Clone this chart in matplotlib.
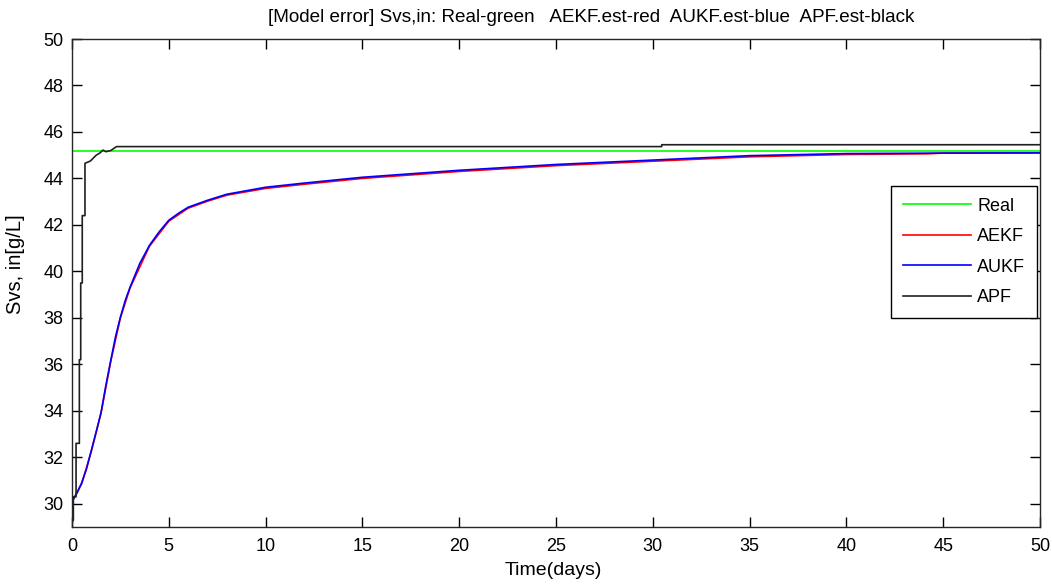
import numpy as np
import matplotlib.pyplot as plt

plt.rcParams['font.family'] = ['Liberation Sans', 'DejaVu Sans']

# time (days) / Svs,in [g/L]
real_t = [0, 50]
real_v = [45.18, 45.18]

aukf_t = [0, 0.25, 0.5, 0.75, 1, 1.25, 1.5, 1.75, 2, 2.25, 2.5, 2.75, 3, 3.5, 4, 4.5,
          5, 5.5, 6, 7, 8, 9, 10, 12, 15, 20, 25, 30, 35, 40, 45, 50]
aukf_v = [30.1, 30.45, 30.9, 31.5, 32.3, 33.1, 33.93, 35.1, 36.16, 37.2, 38.03, 38.75,
          39.32, 40.34, 41.12, 41.7, 42.2, 42.5, 42.76, 43.06, 43.32, 43.47, 43.62, 43.8,
          44.05, 44.35, 44.6, 44.79, 44.98, 45.07, 45.09, 45.1]

aekf_t = [0, 0.5, 1, 1.5, 2, 2.5, 3, 4, 5, 6, 7, 8, 10, 12, 15, 20, 25, 30, 35, 40, 44.2, 45, 50]
aekf_v = [30.08, 30.86, 32.26, 33.9, 36.12, 38.0, 39.29, 41.08, 42.16, 42.72, 43.02, 43.28,
          43.57, 43.75, 44.0, 44.3, 44.55, 44.74, 44.93, 45.03, 45.06, 45.09, 45.1]

apf_t = [0, 0.07, 0.07, 0.21, 0.21, 0.38, 0.38, 0.45, 0.45, 0.53, 0.53, 0.67, 0.67,
         0.95, 1.25, 1.45, 1.6, 1.75, 2.0, 2.3, 30.46, 30.46, 50]
apf_v = [29.2, 29.3, 30.3, 30.3, 32.6, 32.6, 36.2, 36.2, 39.5, 39.5, 42.4, 42.4, 44.65,
         44.75, 45.0, 45.1, 45.22, 45.15, 45.2, 45.37, 45.37, 45.45, 45.45]

fig = plt.figure(figsize=(10.52, 5.86), dpi=100)
ax = fig.add_axes([72/1052, 1 - 527/586, 968/1052, 488/586])

ax.plot(real_t, real_v, color='#00ff00', lw=1.2, label='Real')
ax.plot(aekf_t, aekf_v, color='red', lw=1.2, label='AEKF')
ax.plot(aukf_t, aukf_v, color='blue', lw=1.2, label='AUKF')
ax.plot(apf_t, apf_v, color='#202020', lw=1.2, label='APF')

ax.set_xlim(0, 50)
ax.set_ylim(29, 50)
ax.set_xticks(np.arange(0, 51, 5))
ax.set_yticks(np.arange(30, 51, 2))
ax.tick_params(direction='in', length=7, width=1, top=True, right=True, labelsize=13)
ax.tick_params(axis='x', pad=8)
ax.tick_params(axis='y', pad=6)
for s in ax.spines.values():
    s.set_linewidth(1)
    s.set_color('#262626')

ax.set_title('[Model error] Svs,in: Real-green   AEKF.est-red  AUKF.est-blue  APF.est-black',
             fontsize=13.6, x=(591 - 72) / 968, y=1.0, pad=12)
ax.set_xlabel('Time(days)', fontsize=14)
ax.set_ylabel('Svs, in[g/L]', fontsize=14.5)
ax.xaxis.set_label_coords(0.497, -0.072)
ax.yaxis.set_label_coords(-0.0486, 0.539)

leg = ax.legend(loc='upper right', bbox_to_anchor=(0.997, 0.699), fontsize=13,
                fancybox=False, framealpha=1, edgecolor='black', handlelength=3.8,
                handletextpad=0.33, labelspacing=0.75, borderpad=0.65, borderaxespad=0)
leg.get_frame().set_linewidth(1)

fig.savefig('out.png', dpi=100)
